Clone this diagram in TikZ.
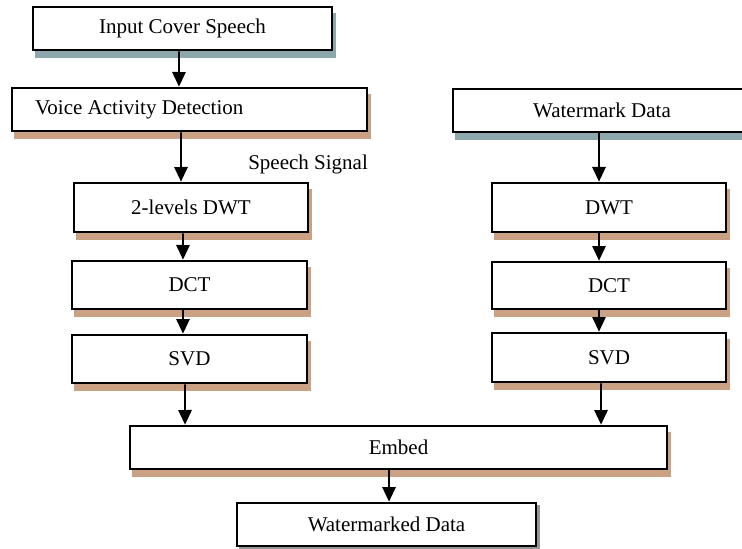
\documentclass[tikz,border=0pt]{standalone}
\usepackage{fontspec}
\setmainfont{Liberation Serif}
\usepackage{tikz}
\usetikzlibrary{arrows.meta,backgrounds}

\definecolor{tanshade}{RGB}{203,161,131}
\definecolor{tealshade}{RGB}{140,168,172}
\definecolor{greyshade}{RGB}{150,150,150}

\tikzset{
  blockbox/.style={draw, fill=white, line width=2pt, inner sep=0pt, font=\fontsize{15.75}{19}\selectfont},
  flowarrow/.style={line width=1.4pt, -{Triangle[length=11pt,width=10pt]}},
}

\begin{document}
\begin{tikzpicture}[x=0.75pt,y=0.75pt,yscale=-1,xscale=1]
  \useasboundingbox (0,0) rectangle (742,549);

  % left branch
  \node[blockbox, minimum width=224.25pt, minimum height=32.25pt] (inp) at (182.5,28.5) {Input Cover Speech};
  \node[blockbox, minimum height=32.25pt, inner xsep=17.25pt, text width=231.75pt, align=flush left] (vad) at (189.5,109.5) {Voice Activity Detection};
  \node[blockbox, minimum width=175.5pt, minimum height=36.75pt] (dwtL) at (191,207.5) {2-levels DWT};
  \node[blockbox, minimum width=176.25pt, minimum height=36pt] (dctL) at (189.5,285) {DCT};
  \node[blockbox, minimum width=176.25pt, minimum height=36pt] (svdL) at (189.5,359) {SVD};

  % right branch
  \node[blockbox, minimum width=223.5pt, minimum height=32.25pt] (wm) at (602,110.5) {Watermark Data};
  \node[blockbox, minimum width=175.5pt, minimum height=36.75pt] (dwtR) at (609,207.5) {DWT};
  \node[blockbox, minimum width=175.5pt, minimum height=35.25pt] (dctR) at (609,285.5) {DCT};
  \node[blockbox, minimum width=175.5pt, minimum height=36.75pt] (svdR) at (609,357.5) {SVD};

  % merge
  \node[blockbox, minimum width=402.75pt, minimum height=32.25pt] (emb) at (398.5,447.5) {Embed};
  \node[blockbox, minimum width=224.25pt, minimum height=32.25pt] (out) at (386.5,524.5) {Watermarked Data};

  % label
  \node[font=\fontsize{15.75}{19}\selectfont, anchor=base west, inner sep=0pt] (sig) at (248,170) {Speech Signal};

  % shadows
  \begin{scope}[on background layer]
    \foreach \n in {inp,wm}
      \fill[tealshade] ([shift={(3,7)}]\n.south west) rectangle ([shift={(3,7)}]\n.north east);
    \foreach \n in {vad,dwtL,dctL,svdL,dwtR,dctR,svdR,emb}
      \fill[tanshade] ([shift={(3,7)}]\n.south west) rectangle ([shift={(3,7)}]\n.north east);
    \fill[greyshade] ([shift={(3,3)}]out.south west) rectangle ([shift={(3,3)}]out.north east);
  \end{scope}

  % arrows
  \draw[flowarrow] ([xshift=-2.6pt]inp.south) -- ([xshift=-7.9pt]vad.north);
  \draw[flowarrow] ([xshift=-6.4pt]vad.south) -- ([xshift=-7.5pt]dwtL.north);
  \draw[flowarrow] ([xshift=-6pt]dwtL.south) -- ([xshift=-4.9pt]dctL.north);
  \draw[flowarrow] ([xshift=-4.9pt]dctL.south) -- ([xshift=-4.9pt]svdL.north);
  \draw[flowarrow] ([xshift=-3.4pt]svdL.south) -- ([xshift=-160.1pt]emb.north);
  \draw[flowarrow] ([xshift=-2.25pt]wm.south) -- ([xshift=-7.5pt]dwtR.north);
  \draw[flowarrow] ([xshift=-7.5pt]dwtR.south) -- ([xshift=-7.5pt]dctR.north);
  \draw[flowarrow] ([xshift=-7.5pt]dctR.south) -- ([xshift=-7.5pt]svdR.north);
  \draw[flowarrow] ([xshift=-6pt]svdR.south) -- ([xshift=151.9pt]emb.north);
  \draw[flowarrow] ([xshift=-7.1pt]emb.south) -- ([xshift=1.9pt]out.north);

\end{tikzpicture}
\end{document}
